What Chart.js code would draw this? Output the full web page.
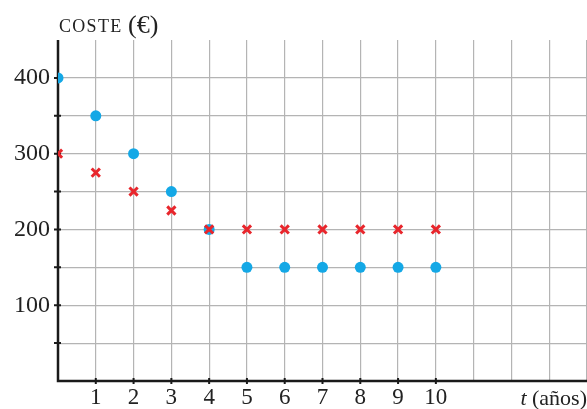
<!DOCTYPE html>
<html>
<head>
<meta charset="utf-8">
<script src="https://cdn.jsdelivr.net/npm/chart.js@4.4.1/dist/chart.umd.min.js"></script>
<style>
  html, body { margin: 0; padding: 0; background: #fff; overflow: hidden; }
  #wrap { width: 587px; height: 409px; position: relative; }
</style>
</head>
<body>
<div id="wrap"><canvas id="chart" width="587" height="409"></canvas></div>
<script>
// years and the two cost series (euros)
const years = [0, 1, 2, 3, 4, 5, 6, 7, 8, 9, 10];
const costBlue = [400, 350, 300, 250, 200, 150, 150, 150, 150, 150, 150];
const costRed = [300, 275, 250, 225, 200, 200, 200, 200, 200, 200, 200];
const xTickLabels = [1, 2, 3, 4, 5, 6, 7, 8, 9, 10];
const yTickLabels = [100, 200, 300, 400];

const SERIF = '"Liberation Serif", "DejaVu Serif", serif';
const BLUE = '#14a8e6';
const RED = '#e8262c';

function toPoints(ys) {
    return years.map((t, i) => ({ x: t, y: ys[i] }));
}

// black axes and tick marks go under the points, titles on top
const axesPlugin = {
    id: 'axes',
    beforeDatasetsDraw(chart) {
        const ctx = chart.ctx;
        const xs = chart.scales.x, ys = chart.scales.y;
        const a = chart.chartArea;
        const x0 = xs.getPixelForValue(0), y0 = ys.getPixelForValue(0);
        ctx.save();
        ctx.strokeStyle = '#1a1a1a';
        ctx.lineWidth = 2.5;
        ctx.beginPath();
        ctx.moveTo(x0, a.top);
        ctx.lineTo(x0, y0);
        ctx.lineTo(a.right, y0);
        ctx.stroke();
        ctx.lineWidth = 2;
        ctx.beginPath();
        xTickLabels.forEach(v => {
            const px = xs.getPixelForValue(v);
            ctx.moveTo(px, y0 - 3);
            ctx.lineTo(px, y0 + 3);
        });
        for (let v = 50; v <= 400; v += 50) {
            const py = ys.getPixelForValue(v);
            ctx.moveTo(x0 - 4, py);
            ctx.lineTo(x0 + 3, py);
        }
        ctx.stroke();
        ctx.restore();
    },
    afterDraw(chart) {
        const ctx = chart.ctx;
        ctx.save();
        ctx.fillStyle = '#222';
        ctx.textBaseline = 'alphabetic';
        ctx.textAlign = 'left';
        ctx.font = '18px ' + SERIF;
        ctx.letterSpacing = '1.3px';
        ctx.fillText('COSTE', 59, 32);
        ctx.letterSpacing = '0px';
        ctx.font = '26px ' + SERIF;
        ctx.fillText('(€)', 128, 33);

        ctx.textAlign = 'right';
        ctx.font = '22px ' + SERIF;
        ctx.fillText('(años)', 587, 405);
        const w = ctx.measureText('(años)').width;
        ctx.font = 'italic 22px ' + SERIF;
        ctx.fillText('t ', 587 - w, 405);
        ctx.restore();
    }
};

new Chart(document.getElementById('chart'), {
    type: 'scatter',
    data: {
        datasets: [
            {
                label: 'rojo',
                data: toPoints(costRed),
                pointStyle: 'crossRot',
                radius: 5.8,
                borderColor: RED,
                backgroundColor: RED,
                borderWidth: 3
            },
            {
                label: 'azul',
                data: toPoints(costBlue),
                pointStyle: 'circle',
                radius: 5.5,
                borderWidth: 0,
                backgroundColor: BLUE,
                borderColor: BLUE
            }
        ]
    },
    options: {
        responsive: false,
        animation: false,
        maintainAspectRatio: false,
        devicePixelRatio: 1,
        layout: {
            autoPadding: false,
            padding: { top: 40, left: 0, right: 0, bottom: 0 }
        },
        plugins: {
            legend: { display: false },
            tooltip: { enabled: false }
        },
        scales: {
            x: {
                type: 'linear',
                min: 0,
                max: 14,
                afterFit: s => {
                    s.height = 28;
                    s.paddingLeft = 0;
                    s.paddingRight = 0;
                },
                border: { display: false },
                grid: {
                    drawTicks: false,
                    color: '#b4b4b4',
                    lineWidth: 1.2
                },
                ticks: {
                    stepSize: 1,
                    autoSkip: false,
                    maxRotation: 0,
                    padding: 3,
                    color: '#222',
                    font: { family: SERIF, size: 23 },
                    callback: v => xTickLabels.includes(v) ? String(v) : ''
                }
            },
            y: {
                min: 0,
                max: 450,
                afterFit: s => {
                    s.width = 58;
                    s.paddingTop = 0;
                    s.paddingBottom = 0;
                },
                border: { display: false },
                grid: {
                    drawTicks: false,
                    color: c => (c.tick && c.tick.value === 450) ? 'rgba(0,0,0,0)' : '#b4b4b4',
                    lineWidth: 1.2
                },
                ticks: {
                    stepSize: 50,
                    autoSkip: false,
                    padding: 8,
                    color: '#222',
                    font: { family: SERIF, size: 24 },
                    callback: v => yTickLabels.includes(v) ? String(v) : ''
                }
            }
        }
    },
    plugins: [axesPlugin]
});
</script>
</body>
</html>
